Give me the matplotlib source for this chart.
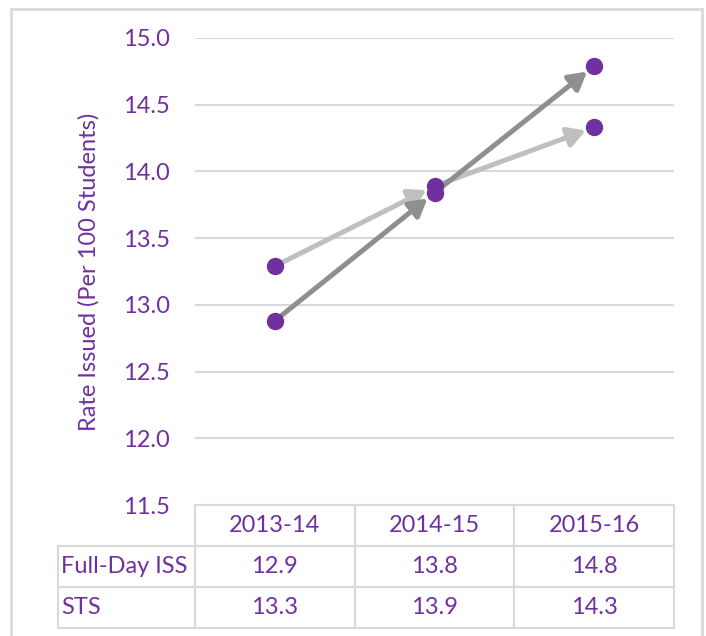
import matplotlib.pyplot as plt
from matplotlib.patches import Rectangle
from matplotlib.table import Table

# data
YEARS = ['2013-14', '2014-15', '2015-16']
SERIES = ['Full-Day ISS', 'STS']
full_day_iss = [12.88, 13.84, 14.79]
sts = [13.29, 13.89, 14.33]
table_iss = ['12.9', '13.8', '14.8']
table_sts = ['13.3', '13.9', '14.3']

PURPLE = '#7030A0'
GRID = '#D9D9D9'
ARROW_COLORS = {'Full-Day ISS': '#8F8F8F', 'STS': '#BFBFBF'}

plt.rcParams['font.family'] = ['Lato', 'DejaVu Sans']
fsize = 17

fig = plt.figure(figsize=(7.06, 6.36), dpi=100)
W, H = 706.0, 636.0
ax = fig.add_axes([195 / W, 1 - 505 / H, 479 / W, 467 / H])

# outer frame
fig.patches.append(Rectangle((11 / W, -0.05), 691 / W, 1.05 - 9 / H, transform=fig.transFigure,
                             fill=False, edgecolor=GRID, linewidth=2, clip_on=False))

x = list(range(len(YEARS)))
values = {'Full-Day ISS': full_day_iss, 'STS': sts}

for name in ['STS', 'Full-Day ISS']:
    vals = values[name]
    for i in range(len(vals) - 1):
        ax.annotate('', xy=(x[i + 1], vals[i + 1]), xytext=(x[i], vals[i]),
                    arrowprops=dict(arrowstyle='-|>,head_length=0.7,head_width=0.4',
                                    color=ARROW_COLORS[name], lw=3.6,
                                    mutation_scale=15, shrinkA=0, shrinkB=6.5),
                    zorder=2)

for name in SERIES:
    ax.plot(x, values[name], linestyle='none', marker='o', markersize=11.5,
            color=PURPLE, zorder=4)

ax.set_xlim(-0.5, 2.5)
ax.set_ylim(11.5, 15.0)
ax.set_yticks([11.5, 12.0, 12.5, 13.0, 13.5, 14.0, 14.5, 15.0])
ax.set_yticklabels(['%.1f' % v for v in ax.get_yticks()])
ax.set_xticks([])
ax.tick_params(axis='y', length=0, pad=18, labelsize=fsize, labelcolor=PURPLE)
for s in ax.spines.values():
    s.set_visible(False)
ax.grid(axis='y', color=GRID, linewidth=1.5)
ax.set_axisbelow(True)
ax.set_ylabel('Rate Issued (Per 100 Students)', color=PURPLE, fontsize=fsize, labelpad=17)

# data table under the axes
row_w = 137 / 479.0
tbl_h = 123 / 467.0
col_w = 1 / 3.0
cell_h = tbl_h / 3
tbl = Table(ax, bbox=[-row_w, -tbl_h, 1 + row_w, tbl_h])
rows = [[''] + YEARS, [SERIES[0]] + table_iss, [SERIES[1]] + table_sts]
for r, row in enumerate(rows):
    for c, txt in enumerate(row):
        w = row_w if c == 0 else col_w
        cell = tbl.add_cell(r, c, w, cell_h, text=txt, loc='left' if c == 0 else 'center')
        cell.set_edgecolor(GRID)
        cell.set_linewidth(1.5)
        cell.get_text().set_color(PURPLE)
        if c == 0:
            cell.PAD = 0.02
        if r == 0 and c == 0:
            cell.visible_edges = ''
            cell.set_facecolor('none')
tbl.auto_set_font_size(False)
tbl.set_fontsize(fsize)
ax.add_table(tbl)

fig.savefig('out.png', dpi=100)
